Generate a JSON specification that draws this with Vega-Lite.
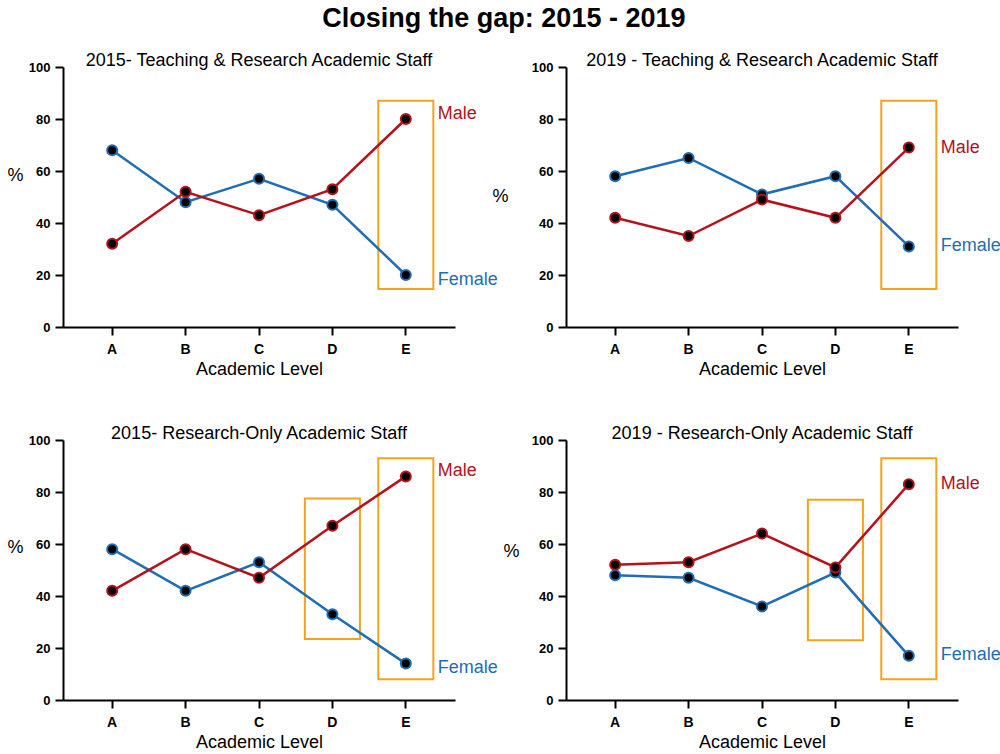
{
  "$schema": "https://vega.github.io/schema/vega-lite/v6.json",
  "background": "white",
  "padding": {"left": 6, "top": 5, "right": 0, "bottom": 0},
  "title": {"text": "Closing the gap: 2015 - 2019", "font": "Liberation Sans", "fontSize": 27, "fontWeight": "bold", "color": "black", "anchor": "middle", "frame": "bounds", "offset": 19},
  "datasets": {
    "tr2015": [
      {"level": "A", "sex": "Female", "pct": 68}, {"level": "B", "sex": "Female", "pct": 48}, {"level": "C", "sex": "Female", "pct": 57}, {"level": "D", "sex": "Female", "pct": 47}, {"level": "E", "sex": "Female", "pct": 20},
      {"level": "A", "sex": "Male", "pct": 32}, {"level": "B", "sex": "Male", "pct": 52}, {"level": "C", "sex": "Male", "pct": 43}, {"level": "D", "sex": "Male", "pct": 53}, {"level": "E", "sex": "Male", "pct": 80}
    ],
    "tr2019": [
      {"level": "A", "sex": "Female", "pct": 58}, {"level": "B", "sex": "Female", "pct": 65}, {"level": "C", "sex": "Female", "pct": 51}, {"level": "D", "sex": "Female", "pct": 58}, {"level": "E", "sex": "Female", "pct": 31},
      {"level": "A", "sex": "Male", "pct": 42}, {"level": "B", "sex": "Male", "pct": 35}, {"level": "C", "sex": "Male", "pct": 49}, {"level": "D", "sex": "Male", "pct": 42}, {"level": "E", "sex": "Male", "pct": 69}
    ],
    "ro2015": [
      {"level": "A", "sex": "Female", "pct": 58}, {"level": "B", "sex": "Female", "pct": 42}, {"level": "C", "sex": "Female", "pct": 53}, {"level": "D", "sex": "Female", "pct": 33}, {"level": "E", "sex": "Female", "pct": 14},
      {"level": "A", "sex": "Male", "pct": 42}, {"level": "B", "sex": "Male", "pct": 58}, {"level": "C", "sex": "Male", "pct": 47}, {"level": "D", "sex": "Male", "pct": 67}, {"level": "E", "sex": "Male", "pct": 86}
    ],
    "ro2019": [
      {"level": "A", "sex": "Female", "pct": 48}, {"level": "B", "sex": "Female", "pct": 47}, {"level": "C", "sex": "Female", "pct": 36}, {"level": "D", "sex": "Female", "pct": 49}, {"level": "E", "sex": "Female", "pct": 17},
      {"level": "A", "sex": "Male", "pct": 52}, {"level": "B", "sex": "Male", "pct": 53}, {"level": "C", "sex": "Male", "pct": 64}, {"level": "D", "sex": "Male", "pct": 51}, {"level": "E", "sex": "Male", "pct": 83}
    ],
    "box_tr2015": [{"level": "E", "lo": 14.6, "hi": 87}],
    "box_tr2019": [{"level": "E", "lo": 14.6, "hi": 87}],
    "box_ro2015": [{"level": "D", "lo": 23.5, "hi": 77.5}, {"level": "E", "lo": 8, "hi": 93}],
    "box_ro2019": [{"level": "D", "lo": 23, "hi": 77}, {"level": "E", "lo": 8, "hi": 93}],
    "lab_tr2015": [{"level": "E", "sex": "Male", "ly": 82}, {"level": "E", "sex": "Female", "ly": 18}],
    "lab_tr2019": [{"level": "E", "sex": "Male", "ly": 69}, {"level": "E", "sex": "Female", "ly": 31}],
    "lab_ro2015": [{"level": "E", "sex": "Male", "ly": 88}, {"level": "E", "sex": "Female", "ly": 12.5}],
    "lab_ro2019": [{"level": "E", "sex": "Male", "ly": 83}, {"level": "E", "sex": "Female", "ly": 17.5}]
  },
  "bounds": "flush",
  "columns": 2,
  "spacing": {"row": 113, "column": 111},
  "config": {
    "view": {"stroke": null},
    "axis": {"domainColor": "black", "domainWidth": 2, "tickColor": "black", "tickWidth": 2, "tickSize": 8, "grid": false, "labelFont": "Liberation Sans", "labelFontWeight": "bold", "labelColor": "black", "titleFont": "Liberation Sans", "titleFontWeight": "normal", "titleFontSize": 18, "titleColor": "black"},
    "axisX": {"labelFontSize": 14, "labelPadding": 7, "titlePadding": 4},
    "axisY": {"labelFontSize": 13, "labelPadding": 5},
    "title": {"font": "Liberation Sans", "fontSize": 18, "fontWeight": "normal", "color": "black", "anchor": "middle", "offset": -9}
  },
  "concat": [
    {
      "width": 392, "height": 260,
      "title": {"text": "2015- Teaching & Research Academic Staff"},
      "data": {"name": "tr2015"},
      "encoding": {
        "x": {"field": "level", "type": "nominal", "scale": {"type": "band", "domain": ["A", "B", "C", "D", "E"], "paddingInner": 0.25, "paddingOuter": 0.295}, "axis": {"title": "Academic Level", "labelAngle": 0}},
        "y": {"field": "pct", "type": "quantitative", "scale": {"domain": [0, 100], "nice": false}, "axis": {"title": "%", "values": [0, 20, 40, 60, 80, 100], "titleAngle": 0, "titleX": -48, "titleY": 108, "titleAlign": "center", "titleBaseline": "middle"}}
      },
      "layer": [
        {"data": {"name": "box_tr2015"}, "mark": {"type": "rect", "fill": "transparent", "stroke": "#f5a31c", "strokeWidth": 2}, "encoding": {"y": {"field": "lo", "type": "quantitative"}, "y2": {"field": "hi"}}},
        {"mark": {"type": "line", "strokeWidth": 2.5}, "encoding": {"color": {"field": "sex", "type": "nominal", "scale": {"domain": ["Male", "Female"], "range": ["#b5121b", "#1f6db4"]}, "legend": null}}},
        {"mark": {"type": "point", "filled": true, "fill": "black", "size": 100, "strokeWidth": 2, "opacity": 1}, "encoding": {"stroke": {"field": "sex", "type": "nominal", "scale": {"domain": ["Male", "Female"], "range": ["#b5121b", "#1f6db4"]}, "legend": null}}},
        {"data": {"name": "lab_tr2015"}, "mark": {"type": "text", "align": "left", "baseline": "middle", "dx": 32, "font": "Liberation Sans", "fontSize": 18}, "encoding": {"y": {"field": "ly", "type": "quantitative"}, "text": {"field": "sex"}, "color": {"field": "sex", "type": "nominal", "scale": {"domain": ["Male", "Female"], "range": ["#b5121b", "#1f6db4"]}, "legend": null}}}
      ]
    },
    {
      "width": 392, "height": 260,
      "title": {"text": "2019 - Teaching & Research Academic Staff"},
      "data": {"name": "tr2019"},
      "encoding": {
        "x": {"field": "level", "type": "nominal", "scale": {"type": "band", "domain": ["A", "B", "C", "D", "E"], "paddingInner": 0.25, "paddingOuter": 0.295}, "axis": {"title": "Academic Level", "labelAngle": 0}},
        "y": {"field": "pct", "type": "quantitative", "scale": {"domain": [0, 100], "nice": false}, "axis": {"title": "%", "values": [0, 20, 40, 60, 80, 100], "titleAngle": 0, "titleX": -66, "titleY": 129, "titleAlign": "center", "titleBaseline": "middle"}}
      },
      "layer": [
        {"data": {"name": "box_tr2019"}, "mark": {"type": "rect", "fill": "transparent", "stroke": "#f5a31c", "strokeWidth": 2}, "encoding": {"y": {"field": "lo", "type": "quantitative"}, "y2": {"field": "hi"}}},
        {"mark": {"type": "line", "strokeWidth": 2.5}, "encoding": {"color": {"field": "sex", "type": "nominal", "scale": {"domain": ["Male", "Female"], "range": ["#b5121b", "#1f6db4"]}, "legend": null}}},
        {"mark": {"type": "point", "filled": true, "fill": "black", "size": 100, "strokeWidth": 2, "opacity": 1}, "encoding": {"stroke": {"field": "sex", "type": "nominal", "scale": {"domain": ["Male", "Female"], "range": ["#b5121b", "#1f6db4"]}, "legend": null}}},
        {"data": {"name": "lab_tr2019"}, "mark": {"type": "text", "align": "left", "baseline": "middle", "dx": 32, "font": "Liberation Sans", "fontSize": 18}, "encoding": {"y": {"field": "ly", "type": "quantitative"}, "text": {"field": "sex"}, "color": {"field": "sex", "type": "nominal", "scale": {"domain": ["Male", "Female"], "range": ["#b5121b", "#1f6db4"]}, "legend": null}}}
      ]
    },
    {
      "width": 392, "height": 260,
      "title": {"text": "2015- Research-Only Academic Staff"},
      "data": {"name": "ro2015"},
      "encoding": {
        "x": {"field": "level", "type": "nominal", "scale": {"type": "band", "domain": ["A", "B", "C", "D", "E"], "paddingInner": 0.25, "paddingOuter": 0.295}, "axis": {"title": "Academic Level", "labelAngle": 0}},
        "y": {"field": "pct", "type": "quantitative", "scale": {"domain": [0, 100], "nice": false}, "axis": {"title": "%", "values": [0, 20, 40, 60, 80, 100], "titleAngle": 0, "titleX": -48, "titleY": 107, "titleAlign": "center", "titleBaseline": "middle"}}
      },
      "layer": [
        {"data": {"name": "box_ro2015"}, "mark": {"type": "rect", "fill": "transparent", "stroke": "#f5a31c", "strokeWidth": 2}, "encoding": {"y": {"field": "lo", "type": "quantitative"}, "y2": {"field": "hi"}}},
        {"mark": {"type": "line", "strokeWidth": 2.5}, "encoding": {"color": {"field": "sex", "type": "nominal", "scale": {"domain": ["Male", "Female"], "range": ["#b5121b", "#1f6db4"]}, "legend": null}}},
        {"mark": {"type": "point", "filled": true, "fill": "black", "size": 100, "strokeWidth": 2, "opacity": 1}, "encoding": {"stroke": {"field": "sex", "type": "nominal", "scale": {"domain": ["Male", "Female"], "range": ["#b5121b", "#1f6db4"]}, "legend": null}}},
        {"data": {"name": "lab_ro2015"}, "mark": {"type": "text", "align": "left", "baseline": "middle", "dx": 32, "font": "Liberation Sans", "fontSize": 18}, "encoding": {"y": {"field": "ly", "type": "quantitative"}, "text": {"field": "sex"}, "color": {"field": "sex", "type": "nominal", "scale": {"domain": ["Male", "Female"], "range": ["#b5121b", "#1f6db4"]}, "legend": null}}}
      ]
    },
    {
      "width": 392, "height": 260,
      "title": {"text": "2019 - Research-Only Academic Staff"},
      "data": {"name": "ro2019"},
      "encoding": {
        "x": {"field": "level", "type": "nominal", "scale": {"type": "band", "domain": ["A", "B", "C", "D", "E"], "paddingInner": 0.25, "paddingOuter": 0.295}, "axis": {"title": "Academic Level", "labelAngle": 0}},
        "y": {"field": "pct", "type": "quantitative", "scale": {"domain": [0, 100], "nice": false}, "axis": {"title": "%", "values": [0, 20, 40, 60, 80, 100], "titleAngle": 0, "titleX": -55, "titleY": 111, "titleAlign": "center", "titleBaseline": "middle"}}
      },
      "layer": [
        {"data": {"name": "box_ro2019"}, "mark": {"type": "rect", "fill": "transparent", "stroke": "#f5a31c", "strokeWidth": 2}, "encoding": {"y": {"field": "lo", "type": "quantitative"}, "y2": {"field": "hi"}}},
        {"mark": {"type": "line", "strokeWidth": 2.5}, "encoding": {"color": {"field": "sex", "type": "nominal", "scale": {"domain": ["Male", "Female"], "range": ["#b5121b", "#1f6db4"]}, "legend": null}}},
        {"mark": {"type": "point", "filled": true, "fill": "black", "size": 100, "strokeWidth": 2, "opacity": 1}, "encoding": {"stroke": {"field": "sex", "type": "nominal", "scale": {"domain": ["Male", "Female"], "range": ["#b5121b", "#1f6db4"]}, "legend": null}}},
        {"data": {"name": "lab_ro2019"}, "mark": {"type": "text", "align": "left", "baseline": "middle", "dx": 32, "font": "Liberation Sans", "fontSize": 18}, "encoding": {"y": {"field": "ly", "type": "quantitative"}, "text": {"field": "sex"}, "color": {"field": "sex", "type": "nominal", "scale": {"domain": ["Male", "Female"], "range": ["#b5121b", "#1f6db4"]}, "legend": null}}}
      ]
    }
  ]
}
